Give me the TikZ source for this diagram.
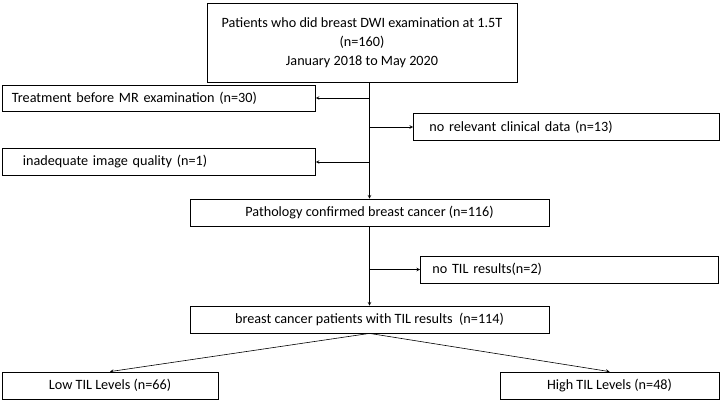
\documentclass[tikz,border=0pt]{standalone}
\usepackage{fontspec}
\setmainfont{Carlito}
\usetikzlibrary{positioning}
\tikzset{
  flowbox/.style={draw, line width=0.8pt, rectangle, inner sep=0pt, font=\fontsize{14.2}{19}\selectfont},
  flowarrow/.style={-stealth, line width=0.6pt},
}
\begin{document}
\begin{tikzpicture}[x=1pt, y=-1pt]
\useasboundingbox (0,0) rectangle (721,404);

\node[flowbox, minimum width=310, minimum height=79, align=center] (start) at (362,43)
  {Patients who did breast DWI examination at 1.5T\\(n=160)\\January 2018 to May 2020};
\node[flowbox, minimum width=313, minimum height=26, anchor=west, text width=300, align=left] (treat) at (2,98)
  {\hspace*{3pt}Treatment before MR examination (n=30)};
\node[flowbox, minimum width=306, minimum height=27, anchor=west, text width=294, align=left] (norel) at (413,127)
  {\hspace*{10pt}no relevant clinical data (n=13)};
\node[flowbox, minimum width=313, minimum height=27, anchor=west, text width=300, align=left] (inad) at (2,162)
  {\hspace*{14pt}inadequate image quality (n=1)};
\node[flowbox, minimum width=359, minimum height=27] (path) at (369.5,212.5)
  {Pathology confirmed breast cancer (n=116)};
\node[flowbox, minimum width=298, minimum height=27, anchor=west, text width=286, align=left] (notil) at (420,269.5)
  {\hspace*{6pt}no TIL results(n=2)};
\node[flowbox, minimum width=359, minimum height=27] (til) at (369.5,319.5)
  {breast cancer patients with TIL results \ (n=114)};
\node[flowbox, minimum width=216, minimum height=27] (low) at (110,385.5)
  {Low TIL Levels (n=66)};
\node[flowbox, minimum width=219, minimum height=27] (high) at (609.5,385.5)
  {High TIL Levels (n=48)};

\coordinate (j1) at (369,98);
\coordinate (j2) at (369,127);
\coordinate (j3) at (369,162);
\coordinate (j4) at (369,269.5);

\draw[flowarrow] (start.south -| path.north) -- (path.north);
\draw[flowarrow] (j1) -- (treat.east);
\draw[flowarrow] (j2) -- (norel.west);
\draw[flowarrow] (j3) -- (inad.east);
\draw[flowarrow] (path.south) -- (til.north);
\draw[flowarrow] (j4) -- (notil.west);
\draw[flowarrow] (til.south) -- (low.north);
\draw[flowarrow] (til.south) -- (high.north);
\end{tikzpicture}
\end{document}
